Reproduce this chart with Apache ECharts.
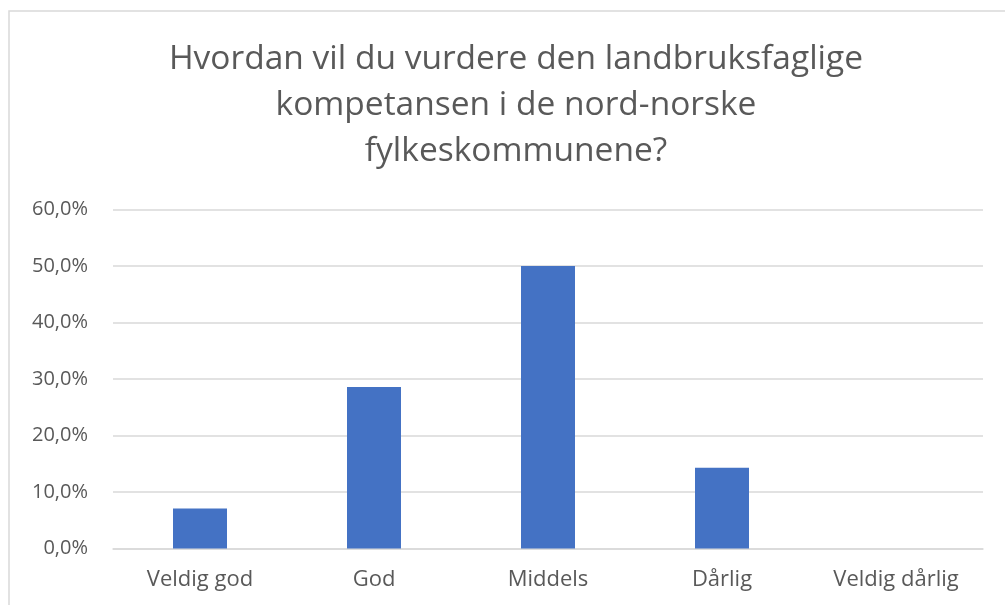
<!DOCTYPE html>
<html>
<head>
<meta charset="utf-8">
<script src="https://cdn.jsdelivr.net/npm/echarts@6/dist/echarts.min.js"></script>
<style>
  html, body { margin: 0; padding: 0; background: #fff; }
  #chart { width: 1005px; height: 605px; }
</style>
</head>
<body>
<div id="chart"></div>
<script>
// svarkategorier og andel svar (14 respondenter)
var categories = ['Veldig god', 'God', 'Middels', 'Dårlig', 'Veldig dårlig'];
var shares = [7.1, 28.6, 50.0, 14.3, 0.0];
var yTicks = { min: 0, max: 60, interval: 10 };
var titleText = 'Hvordan vil du vurdere den landbruksfaglige\nkompetansen i de nord-norske\nfylkeskommunene?';

var myChart = echarts.init(document.getElementById('chart'));

var option = {
    backgroundColor: '#ffffff',
    animation: false,
    textStyle: { fontFamily: 'Open Sans' },
    title: {
        text: titleText,
        left: 511,
        top: 31,
        textAlign: 'center',
        textStyle: {
            fontFamily: 'Open Sans',
            fontSize: 33.5,
            fontWeight: 'normal',
            lineHeight: 46,
            color: '#595959'
        }
    },
    graphic: [
        {
            type: 'rect',
            shape: { x: 9, y: 11, width: 1200, height: 800 },
            style: { fill: 'none', stroke: '#d9d9d9', lineWidth: 1.5 },
            silent: true
        }
    ],
    grid: {
        left: 113,
        right: 22,
        top: 209.5,
        bottom: 56.5,
        containLabel: false
    },
    xAxis: [
        {
            type: 'category',
            data: categories,
            axisLine: { show: true, lineStyle: { color: '#d9d9d9', width: 1.5 } },
            axisTick: { show: false },
            axisLabel: {
                color: '#595959',
                fontSize: 22,
                margin: 20,
                interval: 0
            }
        }
    ],
    yAxis: [
        {
            type: 'value',
            min: yTicks.min,
            max: yTicks.max,
            interval: yTicks.interval,
            axisLine: { show: false },
            axisTick: { show: false },
            splitLine: { lineStyle: { color: '#d9d9d9', width: 1.5 } },
            axisLabel: {
                color: '#595959',
                fontSize: 20,
                margin: 25,
                formatter: function (v) {
                    return v.toFixed(1).replace('.', ',') + '%';
                }
            }
        }
    ],
    series: [
        {
            name: 'Andel',
            type: 'bar',
            data: shares,
            barWidth: 54,
            itemStyle: { color: '#4472c4' }
        }
    ]
};
myChart.setOption(option);
</script>
</body>
</html>
